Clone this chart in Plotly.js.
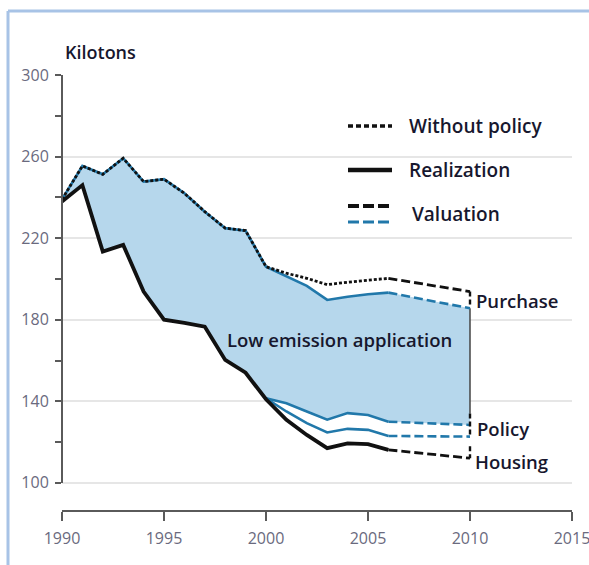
<!DOCTYPE html>
<html>
<head>
<meta charset="utf-8">
<script src="https://cdn.plot.ly/plotly-3.0.1.min.js"></script>
<style>html,body{margin:0;padding:0;background:#fff;}#chart{width:589px;height:565px;}</style>
</head>
<body>
<div id="chart"></div>
<script>
// ---- Data (kilotons) ----
const years = [1990,1991,1992,1993,1994,1995,1996,1997,1998,1999,2000,2001,2002,2003,2004,2005,2006];
const withoutPolicy = [239,255.4,251.3,259.2,247.7,248.9,242,233,224.9,223.7,206,202.8,200.3,197.2,198.4,199.5,200.3];
const purchase      = [239,255.4,251.3,259.2,247.7,248.9,242,233,224.9,223.7,206,201.1,196.6,189.7,191.3,192.5,193.3];
const realization   = [238,246,213.4,216.7,193.8,180,178.5,176.6,160.3,154,141,130.9,123.5,117,119.4,119,116.2];
const laterYears = [2000,2001,2002,2003,2004,2005,2006];
const policy       = [141.5,139,135,131,134.2,133.3,130];
const intermediate = [141.5,135,129.3,124.7,126.5,126,123];
const projYears = [2006,2010];
const withoutPolicyProj = [200.3,193.8];
const purchaseProj      = [193.3,185.6];
const policyProj        = [130,128.4];
const intermediateProj  = [123,122.7];
const housingProj       = [116.2,112.1];
const bracketYear = [2010,2010];
const bracketPurchase = [193.8,186];
const bracketPolicy   = [134,122.7];
const bracketHousing  = [118,112.1];
const yTicks = [100,140,180,220,260,300];
const xTicks = [1990,1995,2000,2005,2010,2015];

// ---- Styles ----
const BLUE = '#2178aa', BLACK = '#111111', FILL = '#b6d7ec';
const TXT = '#17172e';
const labelFont = {family:'Open Sans, sans-serif', size:18.5, color:TXT, weight:600};
const legendFont = {family:'Open Sans, sans-serif', size:19, color:TXT, weight:600};

// fill boundaries built from data
const fillX = years.concat([projYears[1]]);
const lower = years.map((y,i)=> y < laterYears[0] ? realization[i] : policy[laterYears.indexOf(y)]).concat([policyProj[1]]);
const upper = purchase.concat([purchaseProj[1]]);

const traces = [
  {x:fillX, y:lower, mode:'lines', line:{width:0, color:FILL}, hoverinfo:'skip'},
  {x:fillX, y:upper, mode:'lines', fill:'tonexty', fillcolor:FILL, line:{width:0, color:FILL}, hoverinfo:'skip'},
  {x:bracketYear, y:[purchaseProj[1], bracketPolicy[0]], mode:'lines', line:{color:'#444', width:1.5}},
  {x:years, y:purchase, mode:'lines', line:{color:BLUE, width:2.6}},
  {x:laterYears, y:policy, mode:'lines', line:{color:BLUE, width:2.6}},
  {x:laterYears, y:intermediate, mode:'lines', line:{color:BLUE, width:2.6}},
  {x:years, y:realization, mode:'lines', line:{color:BLACK, width:3.8}},
  {x:years, y:withoutPolicy, mode:'lines', line:{color:BLACK, width:2.8, dash:'3px,2px'}},
  {x:projYears, y:purchaseProj, mode:'lines', line:{color:BLUE, width:2.6, dash:'9px,4px'}},
  {x:projYears, y:policyProj, mode:'lines', line:{color:BLUE, width:2.6, dash:'9px,4px'}},
  {x:projYears, y:intermediateProj, mode:'lines', line:{color:BLUE, width:2.6, dash:'9px,4px'}},
  {x:projYears, y:withoutPolicyProj, mode:'lines', line:{color:BLACK, width:2.8, dash:'9px,4px'}},
  {x:projYears, y:housingProj, mode:'lines', line:{color:BLACK, width:2.8, dash:'9px,4px'}},
  {x:bracketYear, y:bracketPurchase, mode:'lines', line:{color:BLACK, width:2.4, dash:'5px,3px'}},
  {x:bracketYear, y:bracketPolicy, mode:'lines', line:{color:BLACK, width:2.4, dash:'5px,3px'}},
  {x:bracketYear, y:bracketHousing, mode:'lines', line:{color:BLACK, width:2.4, dash:'5px,3px'}}
];

// paper helpers for plot area (l=62, r=572, top=75, bottom=510)
const px = v => (v-62)/510;
const py = v => (510-v)/435;

const shapes = [
  // outer light-blue frame
  {type:'line', xref:'paper', yref:'paper', x0:px(8), x1:px(8), y0:py(575), y1:py(11), line:{color:'#a8c3e6', width:3}},
  {type:'line', xref:'paper', yref:'paper', x0:px(8), x1:px(600), y0:py(11), y1:py(11), line:{color:'#a8c3e6', width:3}},
  // y axis spine (100 to 300)
  {type:'line', xref:'paper', yref:'y', x0:0, x1:0, y0:yTicks[0], y1:yTicks[yTicks.length-1], line:{color:'#5a5a5a', width:2}},
  // legend samples
  {type:'line', xref:'paper', yref:'paper', x0:px(348), x1:px(392), y0:py(126), y1:py(126), line:{color:BLACK, width:3.5, dash:'5px,3px'}},
  {type:'line', xref:'paper', yref:'paper', x0:px(348), x1:px(392), y0:py(170), y1:py(170), line:{color:BLACK, width:4.5}},
  {type:'line', xref:'paper', yref:'paper', x0:px(348), x1:px(392), y0:py(206), y1:py(206), line:{color:BLACK, width:4, dash:'11px,4px'}},
  {type:'line', xref:'paper', yref:'paper', x0:px(348), x1:px(392), y0:py(222), y1:py(222), line:{color:BLUE, width:3, dash:'11px,4px'}}
];

const annotations = [
  {xref:'paper', yref:'paper', x:px(63), y:py(52), xanchor:'left', yanchor:'middle', text:'Kilotons', showarrow:false, font:{family:'Open Sans, sans-serif', size:18, color:TXT, weight:600}},
  {xref:'paper', yref:'paper', x:px(407), y:py(126), xanchor:'left', yanchor:'middle', text:'Without policy', showarrow:false, font:legendFont},
  {xref:'paper', yref:'paper', x:px(407), y:py(170), xanchor:'left', yanchor:'middle', text:'Realization', showarrow:false, font:legendFont},
  {xref:'paper', yref:'paper', x:px(410), y:py(214), xanchor:'left', yanchor:'middle', text:'Valuation', showarrow:false, font:legendFont},
  {xref:'x', yref:'y', x:projYears[1], y:purchaseProj[1]+4, xanchor:'left', yanchor:'middle', xshift:4, text:'Purchase', showarrow:false, font:labelFont},
  {xref:'x', yref:'y', x:2003.6, y:170.5, xanchor:'center', yanchor:'middle', text:'Low emission application', showarrow:false, font:labelFont},
  {xref:'x', yref:'y', x:projYears[1], y:policyProj[1]-1.5, xanchor:'left', yanchor:'middle', xshift:5, text:'Policy', showarrow:false, font:labelFont},
  {xref:'x', yref:'y', x:projYears[1], y:housingProj[1]-1.5, xanchor:'left', yanchor:'middle', xshift:3, text:'Housing', showarrow:false, font:labelFont}
];

const tickFont = {family:'Open Sans, sans-serif', size:16, color:'#6a6a7e'};

const layout = {
  width:589, height:565,
  margin:{l:62, r:17, t:75, b:55},
  paper_bgcolor:'#ffffff', plot_bgcolor:'#ffffff',
  showlegend:false,
  xaxis:{range:[xTicks[0], xTicks[xTicks.length-1]], tickvals:xTicks, ticktext:xTicks.map(String),
         showgrid:false, zeroline:false, showline:true, linecolor:'#5a5a5a', linewidth:2,
         ticks:'outside', ticklen:9, tickwidth:2, tickcolor:'#5a5a5a', tickfont:tickFont, ticklabelstandoff:4,
         ticklabeloverflow:'allow', fixedrange:true},
  yaxis:{range:[86.7, 300], tickvals:yTicks, ticktext:yTicks.map(String),
         showgrid:true, gridcolor:'#e6e6e6', gridwidth:2, zeroline:false, showline:false,
         ticks:'outside', ticklen:6, tickwidth:2, tickcolor:'#5a5a5a', tickfont:tickFont, ticklabelstandoff:3,
         minor:{dtick:20, tick0:100, ticks:'outside', ticklen:6, tickwidth:2, tickcolor:'#5a5a5a', showgrid:false},
         fixedrange:true},
  shapes:shapes,
  annotations:annotations
};

Plotly.newPlot('chart', traces, layout, {staticPlot:true, displayModeBar:false});
</script>
</body>
</html>
